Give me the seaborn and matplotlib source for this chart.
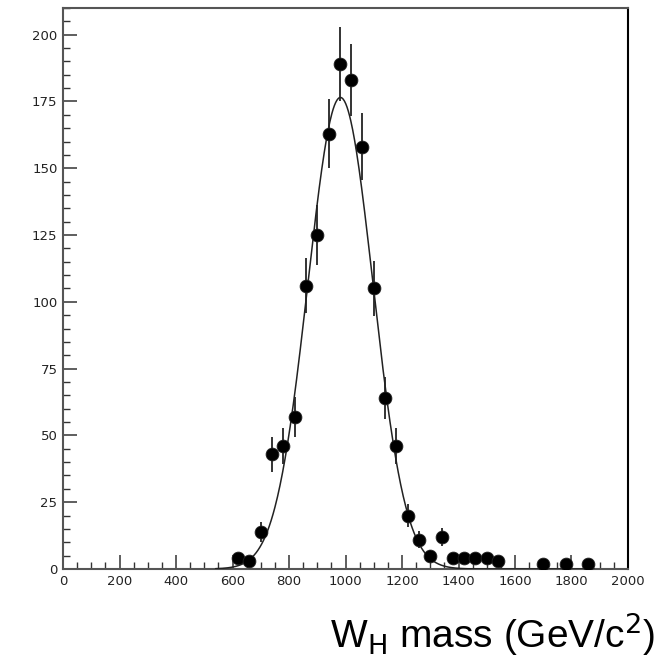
import numpy as np
import pandas as pd
import matplotlib
matplotlib.use("Agg")
import matplotlib.pyplot as plt
from matplotlib.ticker import MultipleLocator
import seaborn as sns

# histogram bins (bin centres, GeV/c^2) and counts
mass = [620, 660, 700, 740, 780, 820, 860, 900, 940, 980, 1020, 1060, 1100,
        1140, 1180, 1220, 1260, 1300, 1340, 1380, 1420, 1460, 1500, 1540,
        1700, 1780, 1860]
counts = [4, 3, 14, 43, 46, 57, 106, 125, 163, 189, 183, 158, 105,
          64, 46, 20, 11, 5, 12, 4, 4, 4, 4, 3,
          2, 2, 2]

# gaussian fit parameters
fit_amp = 176.5
fit_mean = 982.0
fit_sigma = 115.0
fit_range = (540, 1880)

df = pd.DataFrame({"mass": mass, "counts": counts})
df["err"] = np.sqrt(df["counts"])  # poisson errors

xf = np.linspace(fit_range[0], fit_range[1], 600)
fit = pd.DataFrame({"mass": xf,
                    "counts": fit_amp * np.exp(-0.5 * ((xf - fit_mean) / fit_sigma) ** 2)})

sns.set_style("ticks")
plt.rcParams["font.family"] = ["Liberation Sans", "DejaVu Sans"]
plt.rcParams["text.color"] = "black"

fig = plt.figure(figsize=(6.6, 6.65), dpi=100)
ax = fig.add_axes([0.0955, 0.1444, 0.856, 0.8436])

ax.errorbar(df["mass"], df["counts"], yerr=df["err"], fmt="none",
            ecolor="#333333", elinewidth=1.4, capsize=0, zorder=2)
sns.lineplot(data=fit, x="mass", y="counts", ax=ax, color="#222222",
             linewidth=1.1, zorder=3)
sns.scatterplot(data=df, x="mass", y="counts", ax=ax, color="black",
                s=85, edgecolor="#222222", linewidth=0.6, zorder=4)

ax.set_xlim(0, 2000)
ax.set_ylim(0, 210)
ax.set_xlabel("")
ax.set_ylabel("")
ax.xaxis.set_major_locator(MultipleLocator(200))
ax.xaxis.set_minor_locator(MultipleLocator(50))
ax.yaxis.set_major_locator(MultipleLocator(25))
ax.yaxis.set_minor_locator(MultipleLocator(5))
ax.tick_params(which="major", direction="in", length=10, width=1.1,
               color="#333333", labelsize=9.5, labelcolor="#222222", pad=4)
ax.tick_params(which="minor", direction="in", length=5, width=1.0,
               color="#333333")
ax.tick_params(top=False, right=False, which="both")
for lbl in ax.get_xticklabels() + ax.get_yticklabels():
    lbl.set_family("DejaVu Sans")

for side in ["left", "bottom", "top"]:
    ax.spines[side].set_color("#555555")
    ax.spines[side].set_linewidth(1.5)
ax.spines["right"].set_color("black")
ax.spines["right"].set_linewidth(1.5)
ax.spines["top"].set_visible(True)
ax.spines["right"].set_visible(True)

fig.text(0.993, 1 - 648 / 665, r"W$_{\rm H}$ mass (GeV/c$^{2}$)",
         ha="right", va="baseline", fontsize=28, color="black")

fig.savefig("out.png", dpi=100)
